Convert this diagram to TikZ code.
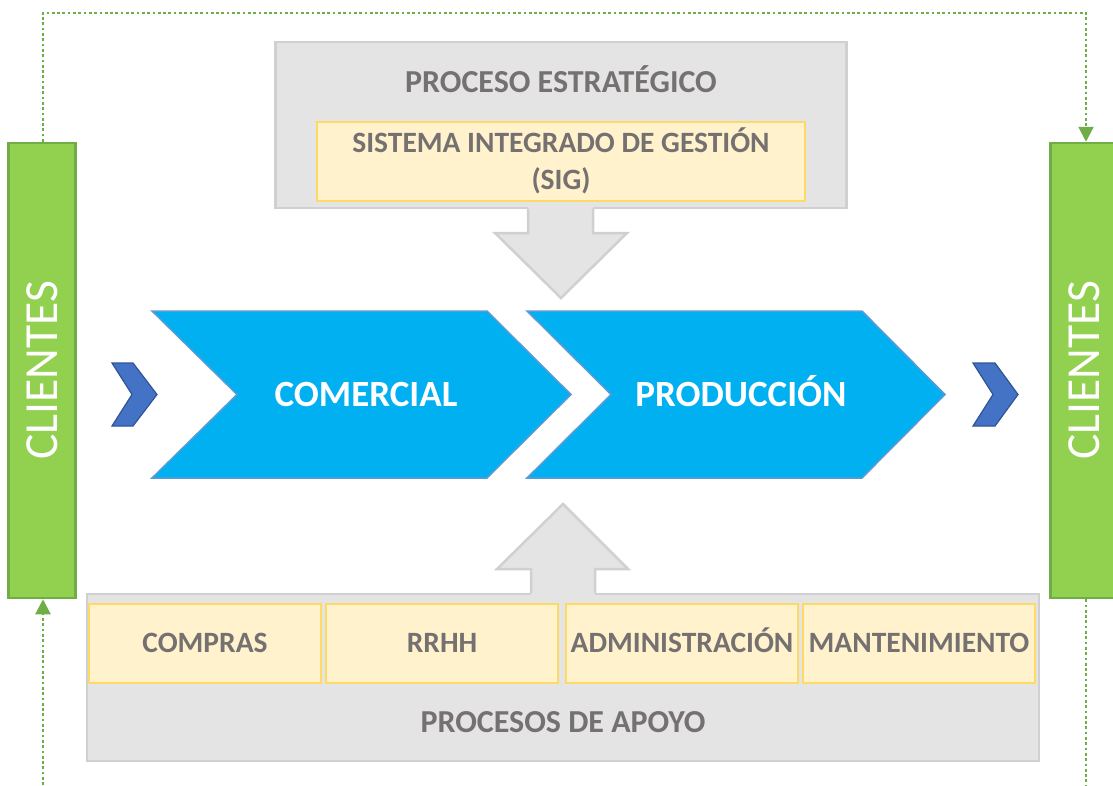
\documentclass[tikz,border=0pt]{standalone}
\usepackage{fontspec}
\setmainfont{Carlito}
\usetikzlibrary{arrows.meta}
\definecolor{grisfondo}{HTML}{E4E4E4}
\definecolor{grisborde}{HTML}{D0D0D0}
\definecolor{grisletra}{HTML}{767171}
\definecolor{amarillo}{HTML}{FFF2CC}
\definecolor{amarilloborde}{HTML}{FFD966}
\definecolor{celeste}{HTML}{00B0F0}
\definecolor{celesteborde}{HTML}{5B9BD5}
\definecolor{azul}{HTML}{4472C4}
\definecolor{azulborde}{HTML}{2F5597}
\definecolor{verde}{HTML}{92D050}
\definecolor{verdeborde}{HTML}{70AD47}
\tikzstyle{bloque} = [rectangle, draw=grisborde, fill=grisfondo, line width=2.5pt, inner sep=0pt]
\tikzstyle{proceso} = [rectangle, draw=amarilloborde, fill=amarillo, line width=2pt,
    inner sep=0pt, align=center, text=grisletra, font=\bfseries\fontsize{29.5}{37}\selectfont]
\tikzstyle{apoyobox} = [proceso, minimum width=232, minimum height=79, text height=25pt, text depth=6pt]
\tikzstyle{cliente} = [rectangle, draw=verdeborde, fill=verde, line width=2.5pt,
    inner sep=0pt, text=white, font=\fontsize{47.5}{50}\selectfont]
\tikzstyle{etiqueta} = [anchor=base, text=white, font=\bfseries\fontsize{37}{44}\selectfont]
\tikzstyle{titulo} = [anchor=base, text=grisletra, font=\bfseries\fontsize{32}{38}\selectfont]
\tikzstyle{chevron} = [fill=celeste, draw=celesteborde, line width=1.5pt, line join=miter]
\tikzstyle{chevronchico} = [fill=azul, draw=azulborde, line width=1.2pt]
\tikzstyle{flechagris} = [draw=grisborde, line width=2.5pt]
\tikzstyle{conector} = [draw=verdeborde, line width=2.2pt, dash pattern=on 2.7pt off 2.6pt]
\tikzstyle{punta} = [-{Triangle[width=15pt,length=15pt]}]

\begin{document}
\begin{tikzpicture}[x=1pt, y=-1pt]
    \useasboundingbox (0,0) rectangle (1113,785);

    % proceso estrategico
    \node (estrategico) [bloque, minimum width=571, minimum height=166] at (561,125) {};
    \node (titulo_est) [titulo] at (561,92.5) {PROCESO ESTRATÉGICO};
    \node (sig) [proceso, minimum width=488, minimum height=79] at (561,161)
        {SISTEMA INTEGRADO DE GESTIÓN\\(SIG)};
    \fill[grisfondo] (528,205) -- (528,233) -- (495,233) -- (561,298) -- (627,233) -- (593,233) -- (593,205) -- cycle;
    \draw[flechagris] (528,208.5) -- (528,233) -- (495,233) -- (561,298) -- (627,233) -- (593,233) -- (593,208.5);

    % procesos de apoyo
    \node (apoyo) [bloque, minimum width=952, minimum height=167] at (563,677.5) {};
    \node (titulo_apoyo) [titulo] at (563,732.5) {PROCESOS DE APOYO};
    \node (compras) [apoyobox] at (205,643) {COMPRAS};
    \node (rrhh) [apoyobox] at (442,643) {RRHH};
    \node (admin) [apoyobox] at (682,643) {ADMINISTRACIÓN};
    \node (mant) [apoyobox] at (919,643) {MANTENIMIENTO};
    \fill[grisfondo] (531,597) -- (531,569) -- (497,569) -- (563,504) -- (628,569) -- (595,569) -- (595,597) -- cycle;
    \draw[flechagris] (531,593) -- (531,569) -- (497,569) -- (563,504) -- (628,569) -- (595,569) -- (595,593);

    % cadena de valor
    \draw[chevron] (152,311) -- (487,311) -- (571,394.5) -- (487,478) -- (152,478) -- (237,394.5) -- cycle;
    \draw[chevron] (527,311) -- (862,311) -- (945,394.5) -- (862,478) -- (527,478) -- (611,394.5) -- cycle;
    \node (comercial) [etiqueta] at (366,406) {COMERCIAL};
    \node (produccion) [etiqueta] at (741,406) {PRODUCCIÓN};
    \draw[chevronchico] (112,363) -- (133,363) -- (157,394.5) -- (133,426) -- (112,426) -- (132,394.5) -- cycle;
    \draw[chevronchico] (973,363) -- (995,363) -- (1018,394.5) -- (995,426) -- (973,426) -- (993,394.5) -- cycle;

    % clientes
    \node (clientesL) [cliente, minimum width=67, minimum height=455] at (42,370.5) {\rotatebox{90}{CLIENTES}};
    \node (clientesR) [cliente, minimum width=67, minimum height=455] at (1084,370.5) {\rotatebox{90}{CLIENTES}};

    \coordinate (baseL) at (43,785);
    \coordinate (baseR) at (1086,785);
    \draw[conector, punta] ([xshift=1pt]clientesL.north) -- ++(0,-129) -| ([xshift=2pt]clientesR.north);
    \draw[conector, punta] (baseL) -- ([xshift=1pt]clientesL.south);
    \draw[conector] ([xshift=2pt]clientesR.south) -- (baseR);
\end{tikzpicture}
\end{document}
